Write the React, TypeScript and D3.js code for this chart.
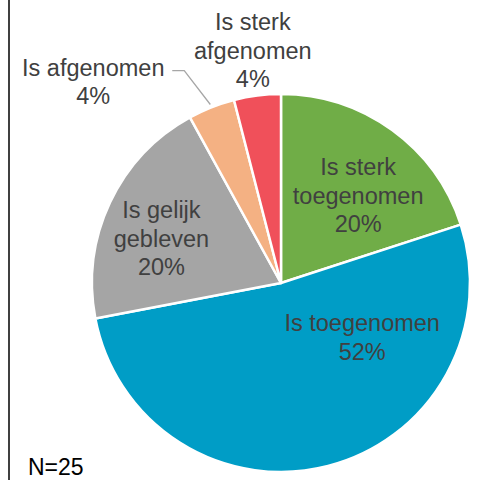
import React from "react";
import * as d3 from "d3";

const categories = ["Is sterk toegenomen", "Is toegenomen", "Is gelijk gebleven", "Is afgenomen", "Is sterk afgenomen"];
const labelLines = [
  ["Is sterk", "toegenomen"],
  ["Is toegenomen"],
  ["Is gelijk", "gebleven"],
  ["Is afgenomen"],
  ["Is sterk", "afgenomen"],
];
const values = [20, 52, 20, 4, 4];
const colors = ["#70AD47", "#009DC6", "#A5A5A5", "#F4B183", "#F0505A"];
const labelNudges: [number, number][] = [
  [10.5, 12.5],
  [53, -47.5],
  [-17, 12],
  [-146, -87.5],
  [-14, -112],
];
const sampleNote = "N=25";

export default function App() {
  const W = 480, H = 480;
  const cx = 281, cy = 283, r = 189;
  const lh = 28.5;
  const pie = d3.pie<number>().sort(null).value((d) => d)(values);
  const arc = d3.arc<d3.PieArcDatum<number>>().innerRadius(0).outerRadius(r);
  const labelArc = d3.arc<d3.PieArcDatum<number>>().innerRadius(r * 0.6).outerRadius(r * 0.6);
  const edgeArc = d3.arc<d3.PieArcDatum<number>>().innerRadius(r + 3).outerRadius(r + 3);
  const font = "'Liberation Sans', Arial, sans-serif";

  return (
    <svg width={W} height={H} style={{ position: "absolute", left: 0, top: 0, background: "#fff" }}>
      <line x1={9} x2={9} y1={0} y2={H} stroke="#000" strokeWidth={1.5} />
      <g transform={`translate(${cx},${cy})`}>
        {pie.map((p, i) => (
          <path key={categories[i]} d={arc(p) || ""} fill={colors[i]} stroke="#fff" strokeWidth={2.5} strokeLinejoin="round" />
        ))}
        {pie.map((p, i) => {
          const [lx0, ly0] = labelArc.centroid(p);
          const lx = lx0 + labelNudges[i][0];
          const ly = ly0 + labelNudges[i][1];
          const lines = [...labelLines[i], `${Math.round(values[i])}%`];
          const first = ly - ((lines.length - 1) * lh) / 2;
          let leader = null;
          if (i === 3) {
            const [ex, ey] = edgeArc.centroid(p);
            const pts: [number, number][] = [
              [lx + 79, ly - 19.5],
              [lx + 91, ly - 19.5],
              [ex, ey],
            ];
            leader = <path d={d3.line()(pts) || ""} fill="none" stroke="#A6A6A6" strokeWidth={1.3} />;
          }
          return (
            <g key={"l" + i}>
              {leader}
              <text textAnchor="middle" fontFamily={font} fontSize={23.5} fill="#404040">
                {lines.map((t, k) => (
                  <tspan key={k} x={lx} y={first + k * lh}>
                    {t}
                  </tspan>
                ))}
              </text>
            </g>
          );
        })}
      </g>
      <text x={28} y={475} fontFamily={font} fontSize={23} fill="#000">
        {sampleNote}
      </text>
    </svg>
  );
}
